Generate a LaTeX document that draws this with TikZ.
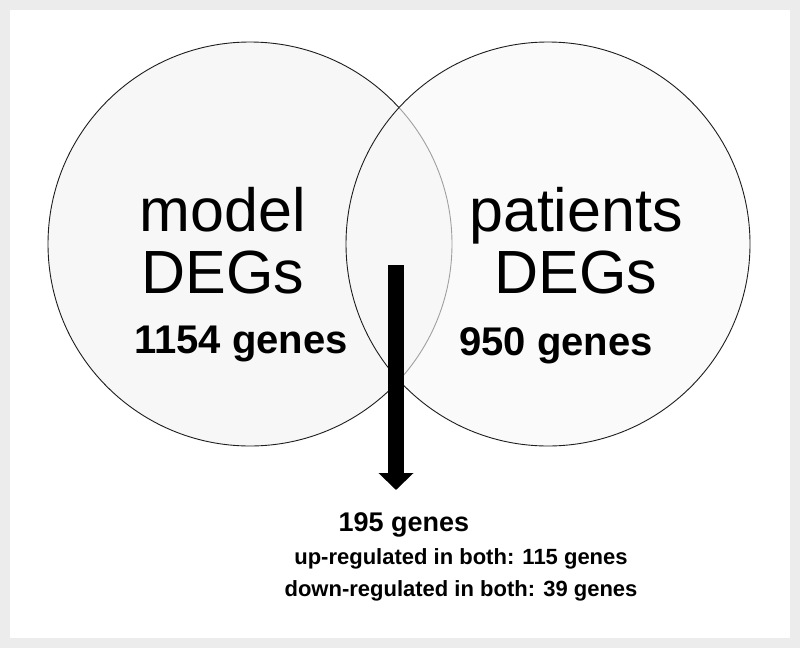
\documentclass[tikz,border=0pt]{standalone}
\usepackage{fontspec}
\setmainfont{Liberation Sans}
\usetikzlibrary{arrows.meta,positioning}
\definecolor{framegrey}{RGB}{236,236,236}
\definecolor{discgrey}{RGB}{247,247,247}
\definecolor{rimgrey}{RGB}{30,30,30}

\begin{document}
\begin{tikzpicture}[x=1pt,y=-1pt,
  disc/.style={circle,draw=rimgrey,line width=0.9pt,fill=discgrey,minimum size=404pt,inner sep=0pt},
  setname/.style={font=\fontsize{61}{62}\selectfont,align=center,inner sep=0pt,anchor=base},
  setsize/.style={font=\fontsize{40}{44}\selectfont\bfseries,inner sep=0pt,anchor=base},
  common/.style={font=\fontsize{22}{32.5}\selectfont\bfseries,align=center,inner sep=0pt,anchor=base},
  ar/.style={line width=16pt,-{Triangle[width=34pt,length=17pt]}}]

\useasboundingbox (0,0) rectangle (800,648);
\fill[framegrey] (0,0) rectangle (800,648);
\fill[white] (10,10) rectangle (790,638);

% the two sets
\node[disc] (model) at (250,244) {};
\node[disc,fill opacity=0.6] (patients) at (548,244) {};

\node[setname] (mname) at (223,293.3) {model\\DEGs};
\node[setsize] (mcount) at (241,353) {1154 genes};
\node[setname] (pname) at (576,293) {patients\\DEGs};
\node[setsize] (pcount) at (556,355) {950 genes};

% overlap
\coordinate (from) at (396,265);
\coordinate (to) at (396,490);
\draw[ar] (from) -- (to);

\node[common,font=\fontsize{27}{30}\selectfont\bfseries] (shared) at (404,531) {195 genes};
\node[common] (both) at (461,596.5) {up-regulated in both: 115 genes\\down-regulated in both: 39 genes};
\end{tikzpicture}
\end{document}
